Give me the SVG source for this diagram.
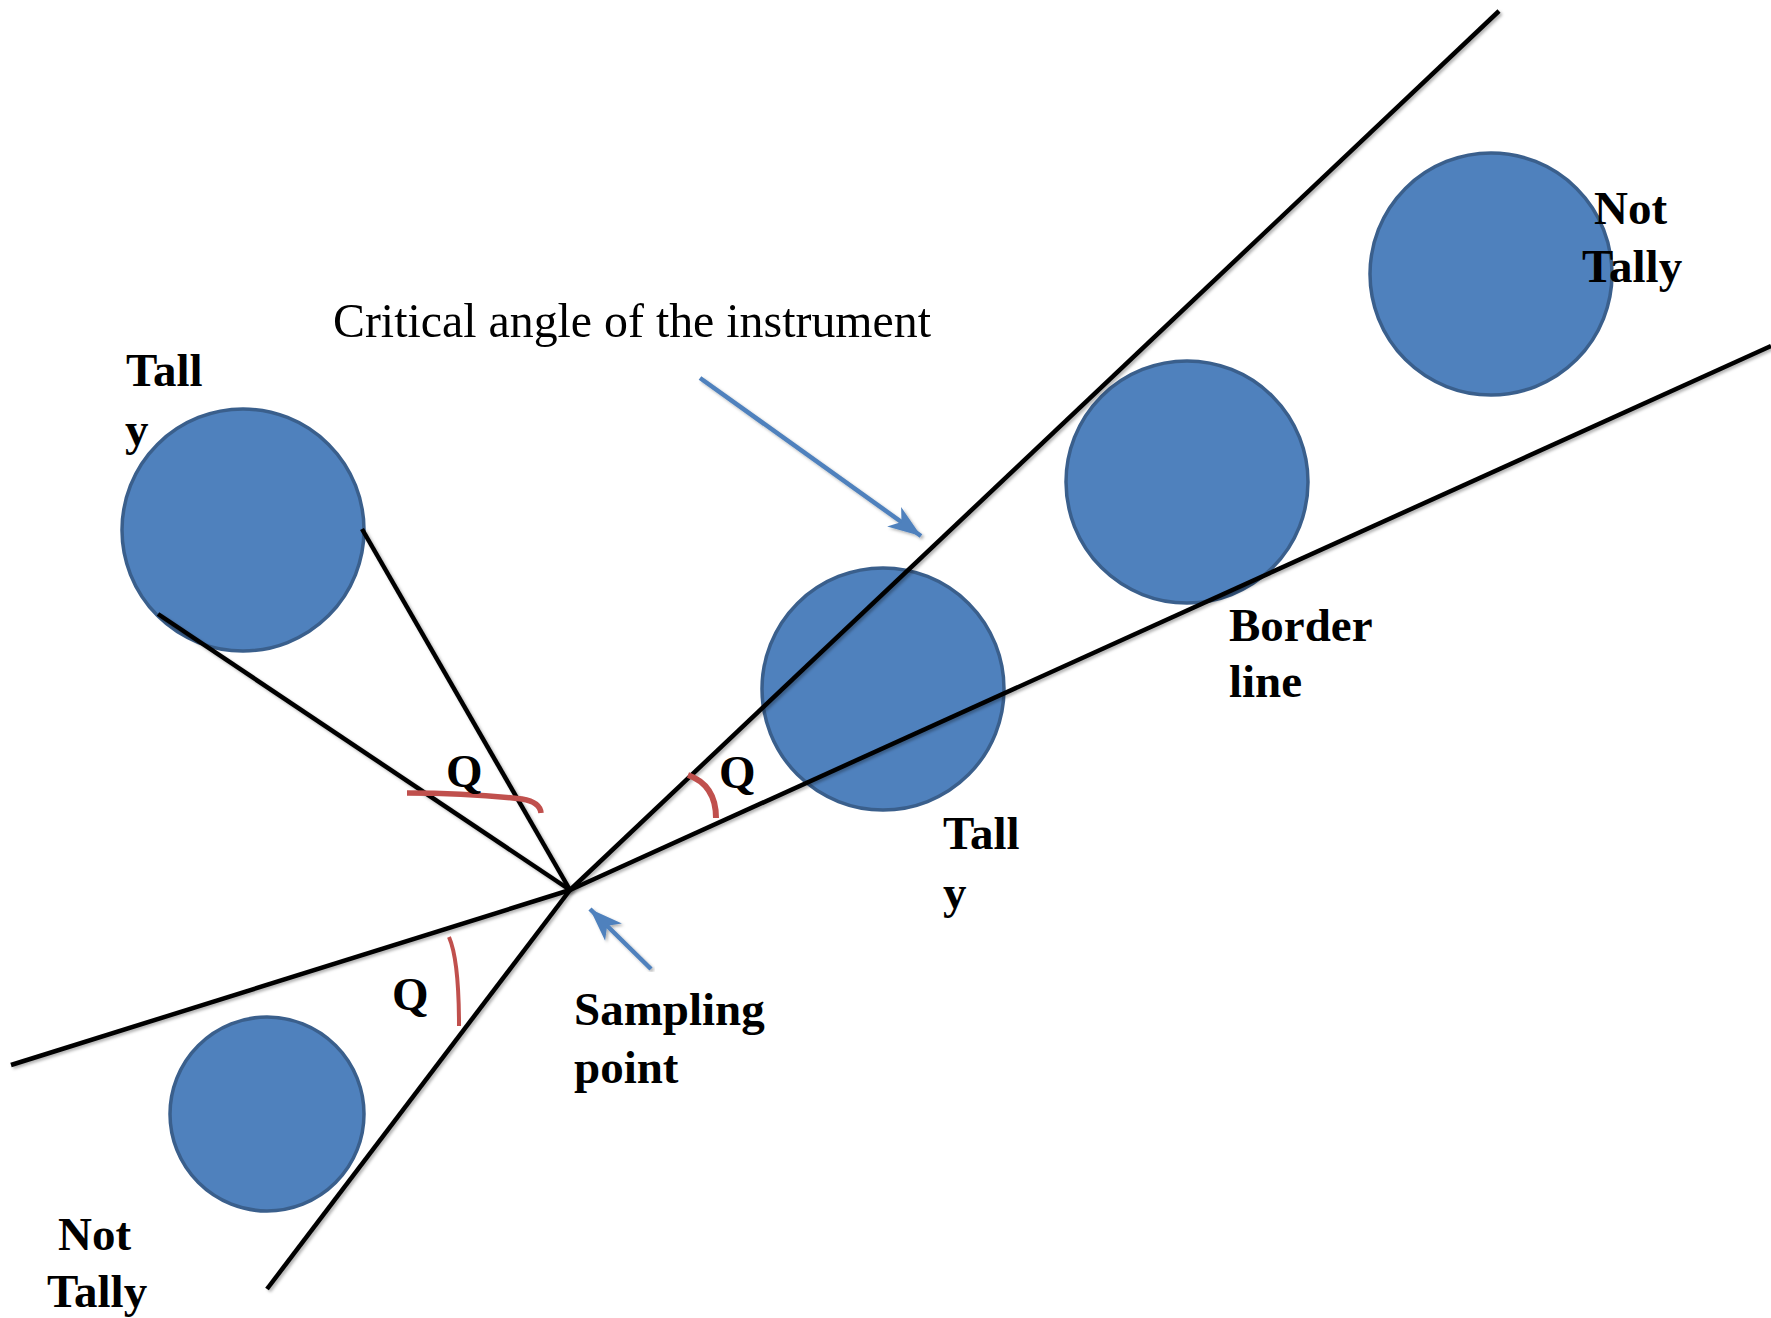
<svg xmlns="http://www.w3.org/2000/svg" width="1771" height="1318" viewBox="0 0 1771 1318">
<style>
  .ball { fill: #4F81BD; stroke: #3A5F8C; stroke-width: 3.5; }
  .lbl { font-family: "Liberation Serif", "Times New Roman", serif; font-weight: bold; font-size: 47px; fill: #000; }
  .cap { font-family: "Liberation Serif", "Times New Roman", serif; font-size: 49px; fill: #000; }
  .ray { stroke: #000; stroke-width: 4.5; fill: none; stroke-linecap: butt; filter: url(#sh); }
  .ptr { stroke: #4F81BD; stroke-width: 4.5; fill: none; filter: url(#sh); }
  .ang { stroke: #C0504D; fill: none; stroke-linecap: butt; }
</style>
<defs>
  <filter id="sh" x="-5%" y="-5%" width="110%" height="110%">
    <feDropShadow dx="2" dy="2" stdDeviation="1.5" flood-color="#000" flood-opacity="0.3"/>
  </filter>
  <marker id="ah" markerUnits="userSpaceOnUse" markerWidth="40" markerHeight="30" refX="0" refY="0" viewBox="-34 -15 36 30" orient="auto">
    <path d="M0,0 L-33,-12 L-24,0 L-33,12 Z" fill="#4F81BD"/>
  </marker>
</defs>
<rect width="1771" height="1318" fill="#fff"/>

<g id="tally-left">
  <circle class="ball" cx="243" cy="530" r="121"/>
  <text class="lbl" x="126" y="386">Tall</text>
  <text class="lbl" x="125" y="445">y</text>
</g>
<g id="tally-middle">
  <circle class="ball" cx="883" cy="689" r="121"/>
  <text class="lbl" x="943" y="849">Tall</text>
  <text class="lbl" x="943" y="908">y</text>
</g>
<g id="border-line">
  <circle class="ball" cx="1187" cy="482" r="121"/>
  <text class="lbl" x="1229" y="641">Border</text>
  <text class="lbl" x="1229" y="697">line</text>
</g>
<g id="not-tally-upper">
  <circle class="ball" cx="1491" cy="274" r="121"/>
  <text class="lbl" x="1594" y="224">Not</text>
  <text class="lbl" x="1582" y="282">Tally</text>
</g>
<g id="not-tally-lower">
  <circle class="ball" cx="267" cy="1114" r="97"/>
  <text class="lbl" x="58" y="1250">Not</text>
  <text class="lbl" x="47" y="1307">Tally</text>
</g>
<g id="sampling-point">
  <text class="lbl" x="574" y="1025">Sampling</text>
  <text class="lbl" x="574" y="1083">point</text>
</g>
<g id="critical-angle">
  <text class="cap" x="333" y="337" textLength="598" lengthAdjust="spacingAndGlyphs">Critical angle of the instrument</text>
</g>

<g id="connectors">
  <line class="ray" x1="570" y1="890" x2="1499" y2="11"/>
  <line class="ray" x1="570" y1="890" x2="1771" y2="346"/>
  <line class="ray" x1="570" y1="890" x2="11" y2="1065"/>
  <line class="ray" x1="570" y1="890" x2="267" y2="1289"/>
  <line class="ray" x1="570" y1="890" x2="158" y2="614"/>
  <line class="ray" x1="570" y1="890" x2="362" y2="529"/>
  <line class="ptr" x1="700" y1="378" x2="921" y2="536" marker-end="url(#ah)"/>
  <line class="ptr" x1="651" y1="969" x2="590" y2="909" marker-end="url(#ah)"/>
  <path class="ang" stroke-width="5.5" d="M407,793 Q470,793 522,799 Q540,802 541,813"/>
  <path class="ang" stroke-width="6" d="M688,775 Q716,785 716,818"/>
  <path class="ang" stroke-width="4" d="M449,937 Q459,960 459,1026"/>
  <text class="lbl" x="446" y="787">Q</text>
  <text class="lbl" x="719" y="788">Q</text>
  <text class="lbl" x="392" y="1010">Q</text>
</g>
</svg>
